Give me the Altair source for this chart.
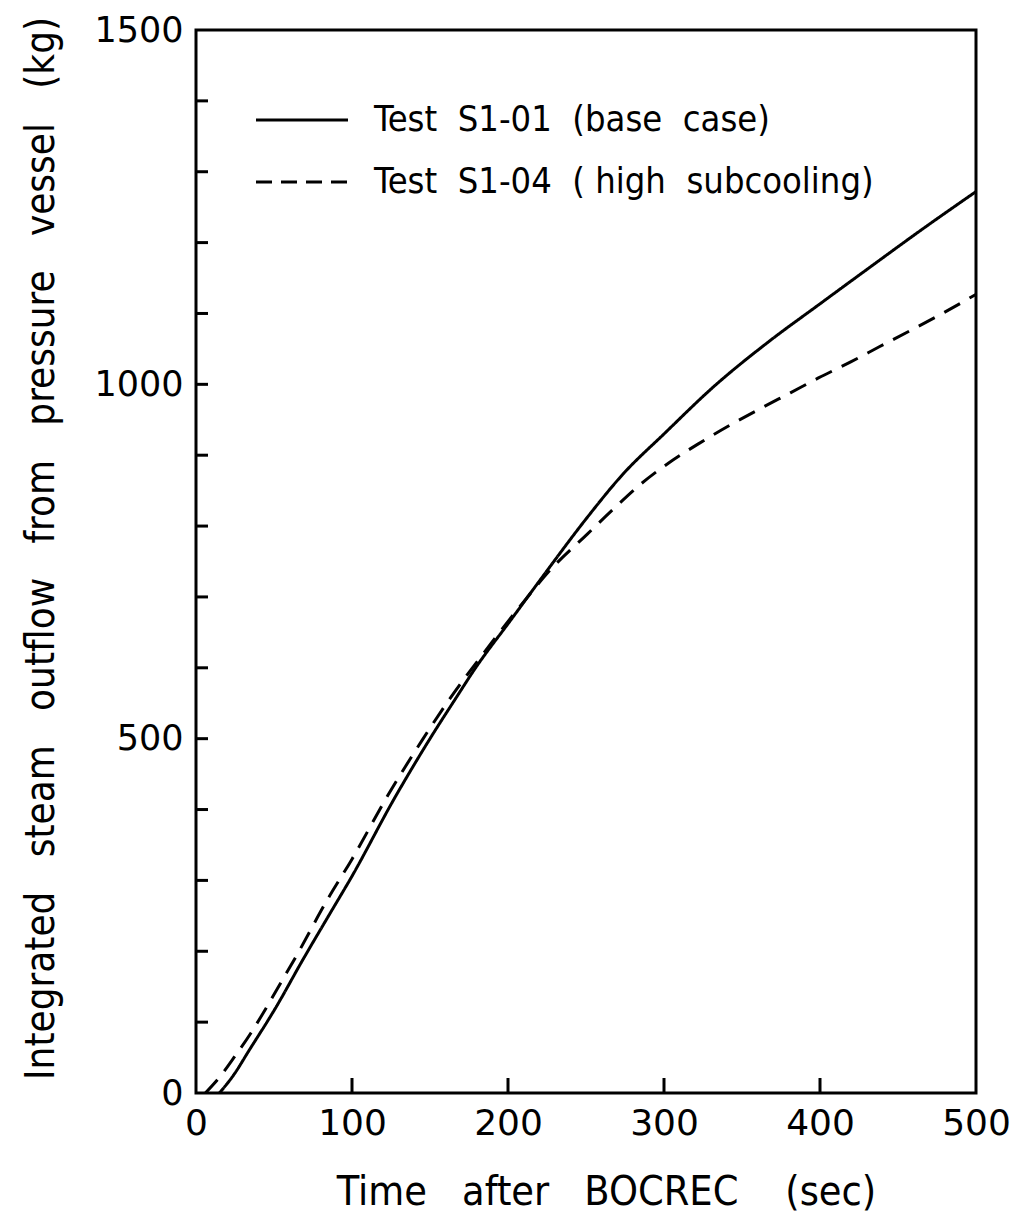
import altair as alt
import pandas as pd

# ---- data ----
s01_t = [15, 24, 34, 51, 69, 85, 100, 127, 150, 168, 178, 202, 226, 250, 274, 300, 332, 367, 399, 430, 465, 500]
s01_v = [0, 25, 60, 120, 190, 250, 306, 415, 500, 562, 596, 668, 740, 810, 874, 930, 997, 1060, 1112, 1162, 1218, 1272]

s04_t = [6, 15, 25, 35, 45, 55, 65, 84, 100, 123, 145, 161, 189, 210, 225, 251, 269, 285, 303, 322, 342, 362, 381, 399, 420, 438, 458, 476, 500]
s04_v = [0, 22, 52, 84, 120, 158, 196, 272, 330, 420, 498, 551, 634, 693, 733, 789, 827, 859, 889, 916, 942, 966, 988, 1009, 1032, 1053, 1076, 1097, 1127]

series_names = ["Test\u00a0 S1-01\u00a0 (base\u00a0 case)",
                "Test\u00a0 S1-04\u00a0 ( high\u00a0 subcooling)"]

x_tick_values = [0, 100, 200, 300, 400, 500]
y_tick_values = [0, 500, 1000, 1500]
x_minor = [100, 200, 300, 400]
y_minor = [100, 200, 300, 400, 500, 600, 700, 800, 900, 1000, 1100, 1200, 1300, 1400]

x_title = "Time\u00a0\u00a0 after\u00a0\u00a0 BOCREC\u00a0\u00a0\u00a0 (sec)"
y_title = ("Integrated\u00a0\u00a0 steam\u00a0\u00a0 outflow\u00a0\u00a0 from\u00a0\u00a0 "
           "pressure\u00a0\u00a0 vessel\u00a0\u00a0 (kg)")

W, H = 780, 1063
TITLE_FONT = "DejaVu Sans Condensed, Liberation Sans Narrow, DejaVu Sans"
LABEL_FONT = "DejaVu Sans"

df = pd.concat([
    pd.DataFrame({"t": s01_t, "v": s01_v, "series": series_names[0]}),
    pd.DataFrame({"t": s04_t, "v": s04_v, "series": series_names[1]}),
])

xs = alt.Scale(domain=[0, 500], nice=False)
ys = alt.Scale(domain=[0, 1500], nice=False)

lines = alt.Chart(df).mark_line(color="black", strokeWidth=3, interpolate="monotone").encode(
    x=alt.X("t:Q", scale=xs, axis=alt.Axis(
        values=x_tick_values, ticks=False, domain=False, grid=False, format="d",
        labelFontSize=36, labelFont=LABEL_FONT, labelColor="black", labelPadding=13,
        labelFlush=False, labelOverlap=False,
        title=x_title, titleFont=TITLE_FONT, titleFontSize=41, titleFontWeight="normal",
        titleColor="black", titleX=410, titleY=99, titleAlign="center", titleBaseline="middle")),
    y=alt.Y("v:Q", scale=ys, axis=alt.Axis(
        values=y_tick_values, ticks=False, domain=False, grid=False, format="d",
        labelFontSize=35, labelFont=LABEL_FONT, labelColor="black", labelPadding=13,
        labelFlush=False, labelOverlap=False,
        title=y_title, titleFont=TITLE_FONT, titleFontSize=40, titleFontWeight="normal",
        titleColor="black", titleX=-155, titleY=518, titleAngle=270,
        titleAlign="center", titleBaseline="middle")),
    strokeDash=alt.StrokeDash("series:N",
        scale=alt.Scale(domain=series_names, range=[[1, 0], [18, 11]]),
        legend=None),
)

yt = alt.Chart(pd.DataFrame({"v": y_minor})).mark_rule(color="black", strokeWidth=3).encode(
    y=alt.Y("v:Q", scale=ys), x=alt.value(0), x2=alt.value(12))
xt = alt.Chart(pd.DataFrame({"t": x_minor})).mark_rule(color="black", strokeWidth=3).encode(
    x=alt.X("t:Q", scale=xs), y=alt.value(H), y2=alt.value(H - 15))

# manual legend (key samples + labels)
leg1 = pd.DataFrame({"label": [series_names[0]]})
leg2 = pd.DataFrame({"label": [series_names[1]]})
key1 = alt.Chart(leg1).mark_rule(color="black", strokeWidth=3).encode(
    x=alt.value(60), x2=alt.value(152), y=alt.value(90))
key2 = alt.Chart(leg2).mark_rule(color="black", strokeWidth=3, strokeDash=[16, 9]).encode(
    x=alt.value(60), x2=alt.value(152), y=alt.value(152))
txt1 = alt.Chart(leg1).mark_text(align="left", baseline="middle", fontSize=36,
                                 font=TITLE_FONT, color="black").encode(
    x=alt.value(178), y=alt.value(90), text="label:N")
txt2 = alt.Chart(leg2).mark_text(align="left", baseline="middle", fontSize=36,
                                 font=TITLE_FONT, color="black").encode(
    x=alt.value(178), y=alt.value(152), text="label:N")

chart = alt.layer(lines, yt, xt, key1, key2, txt1, txt2).properties(
    width=W, height=H,
    autosize=alt.AutoSizeParams(type="none"),
    padding={"left": 188, "top": 22, "right": 38, "bottom": 122},
    background="white",
).configure_view(stroke="black", strokeWidth=3)

chart.save("out.html", embed_options={"renderer": "svg", "actions": False})
